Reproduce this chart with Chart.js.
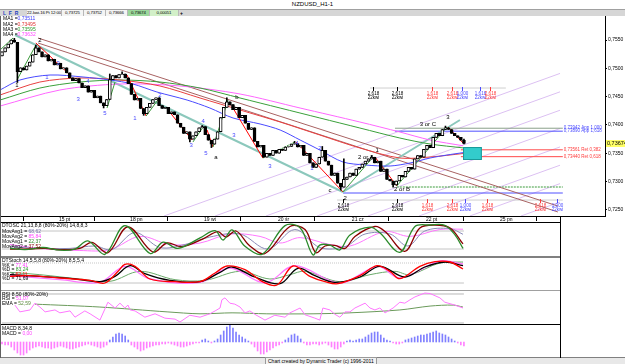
<!DOCTYPE html>
<html>
<head>
<meta charset="utf-8">
<title>NZDUSD_H1-1</title>
<script src="https://cdn.jsdelivr.net/npm/chart.js@4.4.1/dist/chart.umd.min.js"></script>
<style>
  body { margin:0; width:625px; height:364px; overflow:hidden; position:relative; background:#fff;
         font-family:"Liberation Sans", Arial, sans-serif; color:#000; }
  .a { position:absolute; white-space:nowrap; }
  canvas { position:absolute; }
  .t { font-size:5px; line-height:6px; }
  .cell { position:absolute; top:10px; height:6px; font-size:4.3px; line-height:6px; text-align:center; background:#f4f4f4;
          border-right:1px solid #b8b8b8; white-space:nowrap; overflow:hidden; letter-spacing:-0.1px; }
</style>
</head>
<body>
<div class="a" style="left:0;top:0;width:625px;height:9px;border-bottom:1px solid #a0a0a0;text-align:center;font-size:6px;line-height:9px;">NZDUSD_H1-1</div>
<div class="a" style="left:0;top:10px;width:625px;height:6px;background:#d6d6d6;"></div>

<canvas id="main" width="625" height="206" style="left:0;top:16px;"></canvas>
<canvas id="p1" width="560" height="33" style="left:0;top:223px;"></canvas>
<canvas id="p2" width="560" height="32" style="left:0;top:258px;"></canvas>
<canvas id="p3" width="560" height="33" style="left:0;top:291px;"></canvas>
<canvas id="p4" width="560" height="32" style="left:0;top:325px;"></canvas>

<!-- toolbar cells -->
<div class="a t" style="left:3px;top:10px;color:#2040c0;font-weight:bold;font-size:5px;">L&nbsp;&nbsp;F&nbsp;&nbsp;R</div>
<div class="cell" style="left:27px;width:34px;">22-kwi-16 Pt 12:00</div>
<div class="cell" style="left:62px;width:21px;">0,73725</div>
<div class="cell" style="left:84px;width:21px;">0,73752</div>
<div class="cell" style="left:106px;width:21px;">0,73666</div>
<div class="cell" style="left:128px;width:21px;background:#9bd89b;">0,73674</div>
<div class="cell" style="left:150px;width:28px;background:#d2f0c8;">0,00051</div>
<div class="a t" style="left:180px;top:10px;font-weight:bold;">+</div>

<!-- MA legend -->
<div class="a t" style="left:3px;top:15px;">MA1 =<span style="color:#3a3aff">0,73511</span></div>
<div class="a t" style="left:3px;top:21px;">MA2 =<span style="color:#e03030">0,73495</span></div>
<div class="a t" style="left:3px;top:26px;">MA3 =<span style="color:#2a9a2a">0,73595</span></div>
<div class="a t" style="left:3px;top:31px;">MA4 =<span style="color:#ff40ff">0,73632</span></div>

<!-- panel frames -->
<div class="a" style="left:0;top:222px;width:561px;height:1px;background:#000;"></div>
<div class="a" style="left:0;top:256px;width:561px;height:2px;background:#808080;"></div>
<div class="a" style="left:0;top:290px;width:561px;height:1px;background:#a0a0a0;"></div>
<div class="a" style="left:0;top:324px;width:561px;height:1px;background:#000;"></div>
<div class="a" style="left:0;top:357px;width:625px;height:1px;background:#808080;"></div>
<div class="a" style="left:0;top:358px;width:625px;height:6px;background:#e8e8e8;"></div>
<div class="a" style="left:560px;top:216px;width:1px;height:142px;background:#000;"></div>
<div class="a" style="left:0;top:16px;width:1px;height:342px;background:#606060;"></div>

<!-- panel headers -->
<div class="a t" style="left:2px;top:222px;">DTOSC 21,13,8,8 (80%-20%) 14,8,8,3</div>
<div class="a t" style="left:2px;top:228px;">MovAvg1 = <span style="color:#7070a8">68,62</span></div>
<div class="a t" style="left:2px;top:233px;">MovAvg2 = <span style="color:#ff40ff">85,84</span></div>
<div class="a t" style="left:2px;top:238px;">MovAvg1 = <span style="color:#2a8a2a">22,37</span></div>
<div class="a t" style="left:2px;top:243px;">MovAvg2 = <span style="color:#800000">37,52</span></div>

<div class="a t" style="left:2px;top:257px;">DTStoch 14,5,5,8 (80%-20%) 8,5,5,4</div>
<div class="a t" style="left:2px;top:261.5px;">%K = <span style="color:#ff40ff">77,41</span></div>
<div class="a t" style="left:2px;top:266px;">%D = <span style="color:#2a9a2a">83,24</span></div>
<div class="a t" style="left:2px;top:270.5px;">%K = <span style="color:#ff0000">62,11</span></div>
<div class="a t" style="left:2px;top:275px;">%D = <span style="color:#000">71,69</span></div>

<div class="a t" style="left:2px;top:290.5px;">RSI 8,50 (80%-20%)</div>
<div class="a t" style="left:2px;top:295px;">RSI = <span style="color:#ff40ff">51,07</span></div>
<div class="a t" style="left:2px;top:300px;">EMA = <span style="color:#5a8a3a">52,59</span></div>

<div class="a t" style="left:2px;top:325px;">MACD 8,34,8</div>
<div class="a t" style="left:2px;top:330px;">MACD = <span style="color:#ff40ff">0,00</span></div>

<div class="a" style="left:265px;top:357px;height:6px;font-size:5px;line-height:6px;background:#f2f2f2;border:1px solid #9a9a9a;padding:0 2px;">Chart created by Dynamic Trader (c) 1996-2011</div>

<script>
// ---------- data (x = hour index, 0 = first bar) ----------
var dayTicks  = [18.5, 41.6, 65.6, 89.6, 113.6, 137.7, 161.7];
var dayLabels = ['15 pt', '18 pn', '19 wt', '20 śr', '21 cz', '22 pt', '25 pn'];
var priceTicks = [0.7250, 0.7300, 0.7350, 0.7400, 0.7450, 0.7500, 0.7550];

// closes in pips (0.0001)
var firstOpen = 7522;
var closePips = [
  7529, 7536, 7543, 7550, 7546, 7494, 7501, 7497, 7504, 7511,
  7524, 7536, 7529, 7520, 7524, 7513, 7516, 7506, 7509, 7499,
  7501, 7492, 7483, 7478, 7482, 7474, 7466, 7469, 7458, 7461,
  7448, 7451, 7439, 7434, 7445, 7480, 7487, 7483, 7489, 7490,
  7483, 7473, 7454, 7444, 7447, 7429, 7420, 7431, 7438, 7445,
  7448, 7434, 7429, 7431, 7420, 7423, 7418, 7403, 7396, 7385,
  7388, 7375, 7381, 7388, 7395, 7397, 7383, 7373, 7366, 7375,
  7388, 7413, 7431, 7441, 7436, 7427, 7431, 7413, 7417, 7403,
  7392, 7395, 7371, 7361, 7364, 7343, 7350, 7346, 7355, 7350,
  7357, 7355, 7361, 7362, 7366, 7367, 7361, 7364, 7346, 7350,
  7333, 7325, 7331, 7343, 7355, 7336, 7329, 7311, 7315, 7297,
  7290, 7304, 7308, 7315, 7311, 7322, 7325, 7331, 7336, 7340,
  7343, 7333, 7336, 7318, 7322, 7304, 7301, 7294, 7301, 7311,
  7308, 7318, 7325, 7322, 7340, 7346, 7343, 7357, 7364, 7360,
  7378, 7385, 7381, 7392, 7395, 7392, 7385, 7381, 7378, 7373,
  7367.4
];
var wickHighs = [[4,7553],[11,7541],[35,7490],[39,7494],[65,7399],[73,7448],[95,7371],[104,7362],[111,7340],[120,7346],[144,7398],[150,7375.2]];
var wickLows  = [[5,7475],[33,7430],[46,7417],[61,7370],[68,7360],[110,7285],[127,7290],[150,7366.6]];

// moving averages [index, price]
var ma1 = [[-0.65,0.74617],[5.84,0.74794],[15.6,0.74882],[26.3,0.74847],[35.1,0.74794],[42.5,0.74723],[50.3,0.74582],[60.1,0.74440],[67.5,0.74299],[75.0,0.74123],[83.8,0.74017],[90.3,0.73911],[96.8,0.73734],[103.2,0.73557],[110.7,0.73346],[117.9,0.73293],[126.0,0.73275],[132.5,0.73328],[139.0,0.73416],[144.5,0.73469],[149.7,0.73511]];
var ma2 = [[-0.65,0.74529],[12.3,0.74758],[25.3,0.74829],[38.3,0.74794],[51.3,0.74688],[64.3,0.74476],[77.3,0.74264],[90.3,0.74052],[103.2,0.73822],[116.2,0.73593],[129.2,0.73416],[139.0,0.73434],[149.7,0.73495]];
var ma3 = [[-0.65,0.74440],[12.3,0.74652],[25.3,0.74758],[38.3,0.74794],[51.3,0.74758],[64.3,0.74652],[77.3,0.74476],[90.3,0.74299],[103.2,0.74123],[116.2,0.73946],[129.2,0.73769],[139.0,0.73663],[149.7,0.73595]];
var ma4 = [[-0.65,0.74334],[18.8,0.74617],[38.3,0.74723],[57.8,0.74688],[77.3,0.74546],[96.8,0.74299],[116.2,0.74052],[129.2,0.73875],[139.0,0.73734],[149.7,0.73632]];

// wave zigzags [x1, p1, x2, p2]
var zigUp = [[-0.65,0.75323,3.57,0.75535],[4.87,0.74794,11.0,0.75412],[34.1,0.74299,36.7,0.74758],[46.8,0.74158,51.3,0.74493],[62.0,0.73699,65.3,0.73964],[68.5,0.73610,73.4,0.74440],[110.7,0.72816,120.5,0.73434],[128.2,0.72922,144.5,0.73964]];
var zigUpDashed = [[84.7,0.73416,95.1,0.73699]];
var zigDown = [[11.0,0.75447,21.4,0.74917],[40.6,0.74882,46.8,0.74158],[53.9,0.74264,61.7,0.73734],[66.6,0.73911,68.5,0.73610],[75.0,0.74299,84.7,0.73416],[95.5,0.73699,110.7,0.72816],[121.1,0.73434,128.2,0.72922],[144.8,0.73964,149.7,0.73681]];

// trend lines and fan
var trendBrown = [[11.7,0.75535,180.5,0.72568],[11.7,0.75447,180.5,0.72463]];
var trendTeal  = [[4.22,0.75588,110.7,0.72816],[110.7,0.72816,148.7,0.74087]];
var fanLines = [[52.6,0.72392,181.2,0.74910],[69.2,0.72392,181.2,0.74585],[85.7,0.72392,181.2,0.74260],[102.3,0.72392,181.2,0.73937],[118.8,0.72392,181.2,0.73612],[135.4,0.72392,181.2,0.73289],[151.9,0.72392,181.2,0.72964],[168.5,0.72392,181.2,0.72639]];

// price projection levels
var levelPrices = [0.73942, 0.73890, 0.73561, 0.73440];
var levelTags   = ['App 1,000', 'App 1,618', 'Ret 0,382', 'Ret 0,618'];
var levelFrom   = [127.6, 127.6, 149.0, 149.0];
var levelTo     = 182.1;
var guideGreen = [128.2, 182.1, 0.72904];
var guideBlue  = [110.7, 182.1, 0.72798];
var guideGrayTop = [119.5, 163.6, 0.74652];
var guideGrayBottom = [108.8, 182.1, 0.72674];
var targetBox = [149.7, 155.8, 0.73610, 0.73381];

// time projection marks
var markTopIdx = [120.5, 128.2, 139.6, 146.1, 149.4, 155.2, 158.4];
var markTopTags = ['2,618', '2,618', '1,618', '2,618', '1,000', '1,618', '2,618'];
var markBottomIdx = [110.7, 128.2, 138.0, 146.1, 150.3, 157.5, 174.7, 180.2];
var markBottomTags = ['2,618', '2,618', '1,618', '2,618', '1,000', '1,618', '2,618', '1,000'];

// wave labels [index, price, text]
var blueWaves = [[14.6,0.74847,'1'],[18.2,0.75094,'3'],[24.7,0.74458,'3'],[27.9,0.74776,'4'],[33.4,0.74211,'5'],[43.2,0.74123,'1'],[51.3,0.74529,'2'],[61.4,0.73646,'3'],[65.3,0.74070,'4'],[66.2,0.73504,'5'],[75.3,0.73822,'3'],[87.0,0.73275,'3'],[95.8,0.73681,'4'],[100.6,0.73240,'1'],[103.2,0.73593,'2']];
var blackWaves = [[12.3,0.75500,'2'],[4.87,0.74705,'1'],[69.5,0.73434,'a'],[76.3,0.74493,'b'],[106.5,0.72851,'c'],[111.4,0.72710,'2'],[118.2,0.73434,'2 or A'],[121.8,0.73557,'1'],[129.9,0.72869,'2 or B'],[138.3,0.74017,'3 or C'],[144.8,0.74140,'3']];

// DTOSC [index, value]
var oscGreen = [[2.6,22],[7.5,18],[13.3,25],[18.8,16],[23.7,20],[27.9,47],[33.4,2],[39.9,98],[48.1,5],[52.3,43],[57.1,22],[64.3,57],[69.2,81],[71.8,50],[74.7,84],[78.9,29],[84.4,2],[91.9,98],[96.8,91],[101.0,0],[103.2,33],[106.5,33],[109.7,17],[113.0,67],[119.5,93],[122.7,74],[129.2,9],[134.1,95],[139.0,100],[143.8,99],[147.1,67],[149.7,22]];
var oscMaroon = [[2.6,20],[9.1,20],[14.0,22],[18.8,18],[25.3,22],[29.2,42],[34.4,8],[40.9,94],[49.0,10],[53.6,40],[58.4,28],[65.3,54],[70.1,78],[72.7,60],[76.0,80],[80.5,30],[85.4,5],[93.5,95],[98.4,85],[101.9,8],[104.9,30],[108.1,32],[111.4,22],[114.6,62],[121.1,95],[124.4,78],[130.8,12],[135.7,90],[140.6,100],[145.5,90],[149.7,37]];
var oscSlate = [[2.6,28],[12.3,22],[22.1,22],[30.2,30],[35.7,18],[43.2,75],[51.3,25],[59.4,35],[67.5,60],[77.3,70],[86.4,20],[95.1,85],[103.2,25],[111.4,28],[117.9,70],[126.0,70],[131.8,30],[137.3,80],[145.5,88],[149.7,69]];
var oscMagenta = [[2.6,35],[12.3,22],[25.3,15],[35.1,18],[44.8,62],[54.5,35],[64.3,40],[74.0,70],[83.8,62],[90.3,40],[96.8,58],[106.5,35],[113.0,30],[124.4,78],[132.5,62],[142.2,85],[149.7,86]];

// DTStoch
var stRed = [[2.6,40],[9.1,42],[18.8,35],[28.6,28],[33.4,20],[37.7,55],[39.9,76],[43.2,70],[48.1,32],[56.2,24],[64.3,24],[69.2,50],[73.1,71],[78.9,60],[84.4,25],[89.3,14],[94.5,71],[100.0,40],[104.9,24],[109.1,18],[116.2,42],[121.8,72],[126.0,55],[129.2,33],[135.7,70],[140.6,84],[145.5,83],[149.7,62]];
var stBlack = [[2.6,45],[12.3,40],[22.1,34],[31.8,24],[36.7,40],[41.6,72],[46.4,48],[54.5,28],[64.3,24],[70.8,52],[74.7,68],[82.1,38],[90.3,18],[96.1,64],[101.6,42],[108.1,22],[116.2,38],[122.7,70],[130.8,38],[137.3,68],[143.8,83],[149.7,72]];
var stMagenta = [[2.6,42],[18.8,30],[31.8,22],[39.9,70],[48.1,32],[64.3,22],[74.0,65],[85.4,20],[95.1,72],[109.7,20],[122.1,70],[129.2,35],[142.2,86],[149.7,77]];
var stGreen = [[2.6,52],[12.3,45],[25.3,32],[35.1,25],[44.8,55],[56.2,30],[65.9,28],[77.3,55],[87.0,32],[93.5,45],[98.4,55],[109.7,24],[119.5,45],[127.6,55],[132.5,45],[142.2,80],[149.7,83]];

// RSI
var rsiLine = [[4.2,57],[5.8,43],[9.1,47],[10.7,61],[12.3,53],[14.0,43],[17.2,47],[18.8,41],[22.1,45],[23.7,32],[26.9,45],[28.6,39],[31.8,26],[34.4,63],[36.7,51],[38.3,61],[39.9,51],[40.9,57],[41.6,47],[43.2,45],[46.4,32],[49.7,39],[52.9,30],[56.2,28],[57.8,22],[61.0,36],[64.3,32],[67.5,39],[69.2,45],[70.8,51],[71.4,68],[72.4,72],[74.0,61],[75.6,59],[77.3,53],[78.9,41],[80.5,45],[82.1,38],[85.4,26],[88.6,36],[91.9,32],[93.5,41],[96.8,51],[98.4,37],[101.6,30],[103.2,26],[104.2,51],[106.5,47],[108.1,38],[109.7,32],[111.4,43],[113.0,43],[114.6,51],[117.9,61],[119.5,51],[121.1,47],[122.7,51],[124.4,41],[127.0,51],[129.2,63],[130.8,61],[132.5,68],[134.1,74],[137.3,82],[139.0,81],[142.2,72],[143.8,63],[147.1,57],[149.7,51]];
var rsiEma = [[10.7,59],[31.8,53],[53.6,43],[64.3,39],[74.7,41],[86.0,39],[101.0,39],[113.0,41],[129.2,47],[139.0,55],[146.5,57],[149.7,53]];

// MACD histogram (units of 0.00005), one bar per hour
var macdHist = [
  -2,-3,-3,-5,-8,-11,-13,-13,-11,-8,
  -6,-5,-4,-5,-6,-6,-7,-6,-5,-4,
  -5,-6,-7,-7,-6,-5,-4,-3,-2,-3,
  -4,-5,-6,-5,-3,2,5,8,9,8,
  6,2,-3,-5,-7,-9,-8,-6,-5,-4,
  -3,-3,-2,-2,-1,-2,-3,-4,-5,-5,
  -4,-3,-2,-1,-1,2,3,1,-1,1,
  3,7,11,15,17,14,10,7,5,3,
  1,-2,-5,-9,-12,-12,-10,-8,-6,-4,
  -3,-1,2,4,7,8,6,3,-1,-3,
  -3,-2,-2,-3,-2,-1,-3,-5,-7,-7,
  -5,-2,1,2,1,2,3,3,5,7,
  9,10,10,7,4,2,1,-1,-2,-2,
  -1,2,3,4,5,6,7,7,8,9,
  10,11,9,8,7,5,3,1,-1,-3,
  -4
];

// ---------- helpers ----------
var FONT = '"Liberation Sans", Arial, sans-serif';
var X_MIN = -0.65, MAIN_X_MAX = 195.8, PANEL_X_MAX = 181.2;
var P_MIN = 0.72392, P_MAX = 0.75924;
var LAST_INDEX = closePips.length - 1;

Chart.defaults.font.family = FONT;

function P(v) { return v / 10000; }
function xy(list) { return list.map(function (p) { return { x: p[0], y: p[1] }; }); }
function segs(list) {
  var pts = [];
  list.forEach(function (s) { pts.push({x: s[0], y: s[1]}, {x: s[2], y: s[3]}, {x: s[2], y: null}); });
  return pts;
}
function line(data, color, width, order, extra) {
  var ds = { type: 'line', data: data, borderColor: color, borderWidth: width, pointRadius: 0, tension: 0, order: order, spanGaps: false };
  for (var k in extra) ds[k] = extra[k];
  return ds;
}
function comma(v, d) { return v.toFixed(d).replace('.', ','); }

// ---------- candles ----------
var bodies = [], wicks = [], bodyColors = [];
closePips.forEach(function (c, i) {
  var o = i === 0 ? firstOpen : closePips[i - 1];   // FX bars open at the prior close
  var hi = Math.max(o, c), lo = Math.min(o, c);
  wickHighs.forEach(function (w) { if (w[0] === i) hi = Math.max(hi, w[1]); });
  wickLows.forEach(function (w) { if (w[0] === i) lo = Math.min(lo, w[1]); });
  bodies.push({ x: i, y: [P(o), P(c)] });
  wicks.push({ x: i, y: [P(lo), P(hi)] });
  bodyColors.push(c >= o ? '#ffffff' : '#000000');
});

var levelLines = [];
levelPrices.forEach(function (p, k) { levelLines.push([levelFrom[k], p, levelTo, p]); });

var mainSets = [];
mainSets.push(line(segs(fanLines), '#dcc0f2', 1, 20));
mainSets.push(line(segs([[guideGrayTop[0], guideGrayTop[2], guideGrayTop[1], guideGrayTop[2]], [guideGrayBottom[0], guideGrayBottom[2], guideGrayBottom[1], guideGrayBottom[2]]]), '#cfcfcf', 1, 19));
mainSets.push(line(segs([levelLines[0]]), '#8aa08a', 1, 18));
mainSets.push(line(segs([levelLines[1]]), '#5050ff', 1, 18));
mainSets.push(line(segs([levelLines[2], levelLines[3]]), '#ff4a4a', 1, 18));
mainSets.push(line(segs([[guideGreen[0], guideGreen[2], guideGreen[1], guideGreen[2]]]), '#3a9a3a', 1, 18, { borderDash: [2, 1] }));
mainSets.push(line(segs([[guideBlue[0], guideBlue[2], guideBlue[1], guideBlue[2]]]), '#5050ff', 1, 18));
mainSets.push(line(segs(trendBrown), '#a86262', 1, 16));
mainSets.push(line(segs(trendTeal), '#8cc8bc', 2, 15));
mainSets.push(line(xy(ma4), '#ff66ff', 1, 14, { tension: 0.3 }));
mainSets.push(line(xy(ma3), '#3aa03a', 1, 13, { tension: 0.3 }));
mainSets.push(line(xy(ma2), '#e84040', 1, 12, { tension: 0.3 }));
mainSets.push(line(xy(ma1), '#4a4aff', 1, 11, { tension: 0.3 }));
mainSets.push(line(segs(zigUp), '#3a9a3a', 1, 5));
mainSets.push(line(segs(zigUpDashed), '#3a9a3a', 1, 5, { borderDash: [2, 1] }));
mainSets.push(line(segs(zigDown), '#ff0000', 1, 5));
mainSets.push({ type: 'bar', data: wicks, backgroundColor: '#000', barThickness: 1, grouped: false, order: 2 });
mainSets.push({ type: 'bar', data: bodies, backgroundColor: bodyColors, borderColor: '#000', borderWidth: 1, borderSkipped: false, barThickness: 3, grouped: false, order: 1 });

var overlayPlugin = {
  id: 'overlay',
  afterDatasetsDraw: function (chart) {
    var ctx = chart.ctx, xs = chart.scales.x, ys = chart.scales.y;
    ctx.save();
    // target zone
    var bx1 = xs.getPixelForValue(targetBox[0]), bx2 = xs.getPixelForValue(targetBox[1]);
    var by1 = ys.getPixelForValue(targetBox[2]), by2 = ys.getPixelForValue(targetBox[3]);
    ctx.fillStyle = '#33cccc';
    ctx.fillRect(bx1, by1, bx2 - bx1, by2 - by1);
    ctx.strokeStyle = '#1a9a9a';
    ctx.strokeRect(bx1 + 0.5, by1 + 0.5, bx2 - bx1 - 1, by2 - by1 - 1);

    ctx.textBaseline = 'middle';
    ctx.textAlign = 'center';
    ctx.font = '6px ' + FONT;
    blueWaves.forEach(function (w) { ctx.fillStyle = '#4a4aff'; ctx.fillText(w[2], xs.getPixelForValue(w[0]), ys.getPixelForValue(w[1])); });
    blackWaves.forEach(function (w) { ctx.fillStyle = '#000'; ctx.fillText(w[2], xs.getPixelForValue(w[0]), ys.getPixelForValue(w[1])); });

    // level tags
    ctx.textAlign = 'left';
    ctx.font = '4.5px ' + FONT;
    var tagColors = ['#4a4aff', '#4a4aff', '#ff3a3a', '#ff3a3a'];
    levelPrices.forEach(function (p, k) {
      ctx.fillStyle = tagColors[k];
      ctx.fillText(comma(p, 5) + ' ' + levelTags[k], xs.getPixelForValue(levelTo) + 1, ys.getPixelForValue(p));
    });

    // time projection marks
    ctx.textAlign = 'center';
    var topColors = ['#000', '#000', '#ff3a3a', '#ff3a3a', '#4a4aff', '#4a4aff', '#ff3a3a'];
    var botColors = ['#000', '#000', '#ff3a3a', '#ff3a3a', '#4a4aff', '#ff3a3a', '#ff3a3a', '#4a4aff'];
    function marks(idx, tags, price, colors) {
      var y0 = ys.getPixelForValue(price);
      idx.forEach(function (i, k) {
        var x0 = Math.round(xs.getPixelForValue(i)) + 0.5;
        ctx.strokeStyle = colors[k]; ctx.fillStyle = colors[k]; ctx.lineWidth = 1;
        ctx.beginPath(); ctx.moveTo(x0, y0 - 1); ctx.lineTo(x0, y0 + 3); ctx.stroke();
        ctx.fillText(tags[k], x0, y0 + 5.5);
        ctx.fillText('22kwi', x0, y0 + 9.5);
      });
    }
    marks(markTopIdx, markTopTags, guideGrayTop[2], topColors);
    marks(markBottomIdx, markBottomTags, guideGrayBottom[2], botColors);
    ctx.restore();
  },
  afterDraw: function (chart) {
    var ctx = chart.ctx, ys = chart.scales.y, area = chart.chartArea;
    var last = P(closePips[LAST_INDEX]);
    var y = Math.round(ys.getPixelForValue(last));
    ctx.save();
    ctx.fillStyle = '#ffff66';
    ctx.fillRect(area.right + 1, y - 3, 19, 7);
    ctx.fillStyle = '#000';
    ctx.font = '5.5px ' + FONT;
    ctx.textBaseline = 'middle';
    ctx.fillText(comma(last, 5), area.right + 2, y + 0.5);
    ctx.restore();
  }
};

new Chart(document.getElementById('main'), {
  type: 'bar',
  data: { datasets: mainSets },
  options: {
    responsive: false, animation: false, devicePixelRatio: 1,
    layout: { padding: 0 },
    plugins: { legend: { display: false }, tooltip: { enabled: false } },
    scales: {
      x: {
        type: 'linear', min: X_MIN, max: MAIN_X_MAX, offset: false,
        afterBuildTicks: function (s) { s.ticks = dayTicks.map(function (v) { return { value: v }; }); },
        afterFit: function (s) { s.height = 6; s.paddingLeft = 0; s.paddingRight = 0; },
        grid: { drawOnChartArea: false, drawTicks: true, tickLength: 5, color: '#000' },
        border: { color: '#000' },
        ticks: { autoSkip: false, maxRotation: 0, align: 'start', padding: -4, color: '#000',
                 font: { size: 5, family: FONT },
                 callback: function (v, i) { return dayLabels[i]; } }
      },
      y: {
        position: 'right', min: P_MIN, max: P_MAX,
        afterBuildTicks: function (s) { s.ticks = priceTicks.map(function (v) { return { value: v }; }); },
        afterFit: function (s) { s.width = 20; s.paddingTop = 0; s.paddingBottom = 0; },
        grid: { drawOnChartArea: false, tickLength: 2, color: '#000' },
        border: { color: '#000' },
        ticks: { padding: 1, color: '#000', font: { size: 5, family: FONT },
                 callback: function (v) { return comma(v, 4); } }
      }
    }
  },
  plugins: [overlayPlugin]
});

// ---------- indicator panels ----------
function refLine(v, color, dash) {
  return line([{ x: 0, y: v }, { x: LAST_INDEX, y: v }], color, 1, 50, dash ? { borderDash: dash } : {});
}
function panel(id, type, datasets, min, max) {
  return new Chart(document.getElementById(id), {
    type: type,
    data: { datasets: datasets },
    options: {
      responsive: false, animation: false, devicePixelRatio: 1,
      layout: { padding: 0 },
      plugins: { legend: { display: false }, tooltip: { enabled: false } },
      scales: {
        x: { type: 'linear', min: X_MIN, max: PANEL_X_MAX, offset: false, display: false },
        y: { min: min, max: max, display: false }
      }
    }
  });
}

panel('p1', 'line', [
  refLine(80, '#c4c4c4'), refLine(20, '#c4c4c4'),
  line(xy(oscMagenta), '#ff77ff', 1, 9, { tension: 0.35 }),
  line(xy(oscSlate), '#8a8ab8', 1, 8, { tension: 0.35 }),
  line(xy(oscMaroon), '#8a0000', 1.3, 7, { tension: 0.35 }),
  line(xy(oscGreen), '#2a8a2a', 1.3, 6, { tension: 0.35 })
], -3.3, 106.7);

panel('p2', 'line', [
  refLine(80, '#c8c8c8', [1, 1]), refLine(20, '#c4c4c4'),
  line(xy(stGreen), '#6aaa6a', 1, 9, { tension: 0.35 }),
  line(xy(stMagenta), '#ff77ff', 1.3, 8, { tension: 0.35 }),
  line(xy(stBlack), '#000000', 1.3, 7, { tension: 0.35 }),
  line(xy(stRed), '#ff0000', 1.3, 6, { tension: 0.35 })
], -1, 95);

panel('p3', 'line', [
  refLine(80, '#b8b8b8'), refLine(20, '#b8b8b8'),
  line(xy(rsiEma), '#6a9a5a', 1, 8, { tension: 0.3 }),
  line(xy(rsiLine), '#ff77ff', 1, 7)
], 17.9, 86.2);

panel('p4', 'bar', [{
  type: 'bar',
  data: macdHist.map(function (v, i) { return { x: i, y: v }; }),
  backgroundColor: macdHist.map(function (v) { return v >= 0 ? '#7f7fff' : '#ff80ff'; }),
  barThickness: 1, grouped: false
}], -15, 17);
</script>
</body>
</html>
